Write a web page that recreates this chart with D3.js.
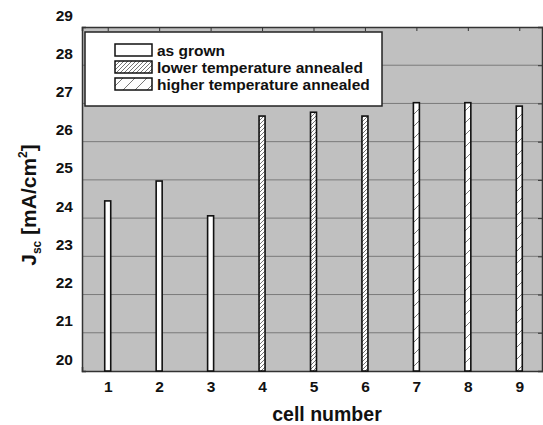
<!DOCTYPE html>
<html lang="en">
<head>
<meta charset="utf-8">
<title>Jsc per cell</title>
<script src="https://cdn.jsdelivr.net/npm/d3@7"></script>
<style>
  body { margin: 0; background: #fff; }
  text { font-family: "Liberation Sans", Arial, sans-serif; font-weight: bold; fill: #111; }
</style>
</head>
<body>
<script>
// data
var cells = [1, 2, 3, 4, 5, 6, 7, 8, 9];
var jsc = [24.45, 24.97, 24.06, 26.67, 26.77, 26.67, 27.02, 27.02, 26.93];
var treatment = ["as grown", "as grown", "as grown",
                 "lower temperature annealed", "lower temperature annealed", "lower temperature annealed",
                 "higher temperature annealed", "higher temperature annealed", "higher temperature annealed"];
var legendLabels = ["as grown", "lower temperature annealed", "higher temperature annealed"];
var yTicks = [20, 21, 22, 23, 24, 25, 26, 27, 28, 29];

var width = 543, height = 425;
var margin = {top: 27, right: -2, bottom: 54, left: 82};

var svg = d3.select("body").append("svg")
  .attr("width", width).attr("height", height);

// hatch patterns
var defs = svg.append("defs");
var dense = defs.append("pattern").attr("id", "hatchDense")
  .attr("patternUnits", "userSpaceOnUse").attr("width", 4).attr("height", 4);
dense.append("rect").attr("width", 4).attr("height", 4).attr("fill", "#fff");
dense.append("path").attr("d", "M-1,5 L5,-1").attr("stroke", "#666").attr("stroke-width", 0.9);

var sparse = defs.append("pattern").attr("id", "hatchSparse")
  .attr("patternUnits", "userSpaceOnUse").attr("width", 12).attr("height", 12);
sparse.append("rect").attr("width", 12).attr("height", 12).attr("fill", "#fff");
sparse.append("path").attr("d", "M-1,13 L13,-1").attr("stroke", "#666").attr("stroke-width", 0.9);

var fills = {
  "as grown": "#fff",
  "lower temperature annealed": "url(#hatchDense)",
  "higher temperature annealed": "url(#hatchSparse)"
};

var x = d3.scaleLinear().domain([0.5, 9.5]).range([margin.left, width - margin.right]);
var y = d3.scaleLinear().domain([20, 29]).range([height - margin.bottom, margin.top]);

// plot background
svg.append("rect")
  .attr("x", x(0.5)).attr("y", y(29))
  .attr("width", x(9.5) - x(0.5)).attr("height", y(20) - y(29))
  .attr("fill", "#c0c0c0");

// horizontal grid
svg.append("g").selectAll("line")
  .data(yTicks.slice(1, -1))
  .enter().append("line")
  .attr("x1", x(0.5)).attr("x2", x(9.5))
  .attr("y1", function(d) { return y(d); })
  .attr("y2", function(d) { return y(d); })
  .attr("stroke", "#7a7a7a").attr("stroke-width", 1);

// axes (ticks inward)
var xAxis = d3.axisBottom(x).tickValues(cells).tickSize(-4).tickPadding(10).tickFormat(d3.format("d"));
var xTop = d3.axisTop(x).tickValues(cells).tickSize(-4).tickFormat("");
var yAxis = d3.axisLeft(y).tickValues(yTicks).tickSize(-4).tickPadding(9);
var yRight = d3.axisRight(y).tickValues(yTicks).tickSize(-4).tickFormat("");

var gx = svg.append("g").attr("transform", "translate(0," + y(20) + ")").call(xAxis);
var gxt = svg.append("g").attr("transform", "translate(0," + y(29) + ")").call(xTop);
var gy = svg.append("g").attr("transform", "translate(" + x(0.5) + ",0)").call(yAxis);
var gyr = svg.append("g").attr("transform", "translate(" + (width - 1) + ",0)").call(yRight);

[gx, gxt, gy, gyr].forEach(function(g) {
  g.select(".domain").attr("stroke", "#333").attr("stroke-width", 1.5);
  g.selectAll(".tick line").attr("stroke", "#333");
  g.selectAll("text").style("font-size", "15.5px").style("font-family", "Liberation Sans, Arial, sans-serif")
    .style("font-weight", "bold").attr("fill", "#111");
});
gy.selectAll(".tick text").attr("dy", "-0.45em");
gy.selectAll(".tick line").attr("stroke", "none");

// bars
var bw = 6;
svg.append("g").selectAll("rect")
  .data(cells)
  .enter().append("rect")
  .attr("x", function(d) { return x(d) - bw / 2; })
  .attr("y", function(d, i) { return y(jsc[i]); })
  .attr("width", bw)
  .attr("height", function(d, i) { return y(20) - y(jsc[i]); })
  .attr("fill", function(d, i) { return fills[treatment[i]]; })
  .attr("stroke", "#111").attr("stroke-width", 1.6);

// legend
var lg = svg.append("g").attr("transform", "translate(85,32)");
lg.append("rect").attr("width", 297).attr("height", 74)
  .attr("fill", "#fff").attr("stroke", "#222").attr("stroke-width", 1.5);
legendLabels.forEach(function(lab, i) {
  lg.append("rect").attr("x", 30).attr("y", 12 + i * 17)
    .attr("width", 37).attr("height", 12)
    .attr("fill", fills[lab]).attr("stroke", "#111").attr("stroke-width", 1.5);
  lg.append("text").attr("x", 72).attr("y", 23.5 + i * 17)
    .style("font-size", "15.5px").text(lab);
});

// axis titles
svg.append("text")
  .attr("x", 327).attr("y", 421)
  .attr("text-anchor", "middle").style("font-size", "19.5px")
  .text("cell number");

var yl = svg.append("text")
  .attr("transform", "translate(36,205) rotate(-90)")
  .attr("text-anchor", "middle").style("font-size", "21px");
yl.append("tspan").text("J");
yl.append("tspan").attr("dy", 5).style("font-size", "12px").text("sc");
yl.append("tspan").attr("dy", -5).text(" [mA/cm");
yl.append("tspan").attr("dy", -9).style("font-size", "12px").text("2");
yl.append("tspan").attr("dy", 9).text("]");
</script>
</body>
</html>
